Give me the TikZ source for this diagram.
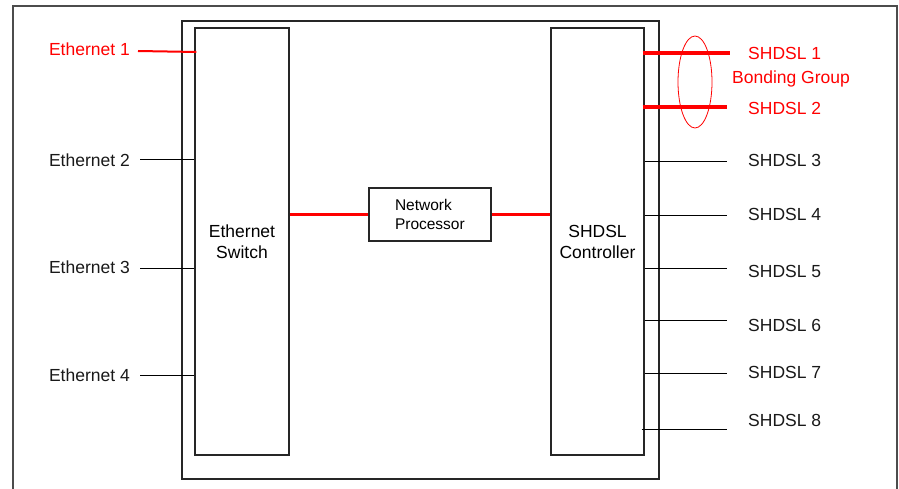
\documentclass[tikz,border=0pt]{standalone}
\usepackage{fontspec}
\setmainfont{Liberation Sans}
\usepackage{tikz}
\usepackage{xcolor}

\newcommand{\lblfont}{\fontsize{17.5}{21}\selectfont}

\begin{document}
\begin{tikzpicture}[
    x=1pt, y=-1pt,
    frame/.style={draw=black!80, line width=1.2pt},
    box/.style={draw=black!85, line width=1.3pt, inner sep=0pt, align=center, font=\lblfont},
    port/.style={font=\lblfont, text=black!90, inner sep=0pt},
    redport/.style={font=\lblfont, text=red, inner sep=0pt},
    wire/.style={draw=black, line width=1pt},
    redwire/.style={draw=red, line width=2.2pt},
    bondwire/.style={draw=red, line width=3.4pt}
]
\useasboundingbox (0,0) rectangle (899,489);
\fill[white] (0,0) rectangle (899,489);
\draw[frame, black!70] (13,6) rectangle (897,520);

\node[box, minimum width=477pt, minimum height=458pt] (unit) at (420.5,250) {};
\node[box, minimum width=94pt, minimum height=427pt] (ethsw) at (242,241.5) {Ethernet\\Switch};
\node[box, minimum width=93pt, minimum height=427pt] (shdslctl) at (597.5,241.5) {SHDSL\\Controller};
\node[box, minimum width=122pt, minimum height=53pt, text width=70pt, align=left,
      font=\fontsize{15.5}{19}\selectfont] (netproc) at (430,214.5) {Network\\Processor};

\draw[redwire] (ethsw.east |- netproc.west) -- (netproc.west);
\draw[redwire, line width=2.8pt] (netproc.east) -- (shdslctl.west |- netproc.east);

% ethernet ports
\node[redport, anchor=east] (eth1) at (130,49) {Ethernet 1};
\node[port, anchor=east] (eth2) at (130,160) {Ethernet 2};
\node[port, anchor=east] (eth3) at (130,267) {Ethernet 3};
\node[port, anchor=east] (eth4) at (130,375) {Ethernet 4};
\draw[redwire, line width=2pt] ([xshift=8pt,yshift=-2pt]eth1.east) -- ([xshift=2pt]ethsw.west |- 0,52);
\foreach \i/\y in {2/160,3/268,4/375}
    \draw[wire] ([xshift=10pt]eth\i.east |- 0,\y) -- (ethsw.west |- 0,\y);

% shdsl ports
\coordinate (s1) at (730,53);
\coordinate (s2) at (727,107);
\foreach \i/\y in {3/162,4/215,5/268,6/320,7/373,8/429}
    \coordinate (s\i) at (727,\y);
\draw[bondwire] ([xshift=-2pt]shdslctl.east |- s1) -- (s1);
\draw[bondwire] ([xshift=-2pt]shdslctl.east |- s2) -- (s2);
\foreach \i in {3,...,7}
    \draw[wire] (shdslctl.east |- s\i) -- (s\i);
\draw[wire] ([xshift=-3pt]shdslctl.east |- s8) -- (s8);

\node[redport, anchor=west] (lbl1) at (748,53) {SHDSL 1};
\node[redport] (bond) at (791,79) {Bonding Group};
\node[redport, anchor=west] (lbl2) at (748,108) {SHDSL 2};
\node[port, anchor=west] (lbl3) at (748,160) {SHDSL 3};
\node[port, anchor=west] (lbl4) at (748,214) {SHDSL 4};
\node[port, anchor=west] (lbl5) at (748,271) {SHDSL 5};
\node[port, anchor=west] (lbl6) at (748,325) {SHDSL 6};
\node[port, anchor=west] (lbl7) at (748,372) {SHDSL 7};
\node[port, anchor=west] (lbl8) at (748,420) {SHDSL 8};

\draw[red, line width=0.8pt] (695,82) ellipse [x radius=17pt, y radius=46pt];
\end{tikzpicture}
\end{document}
